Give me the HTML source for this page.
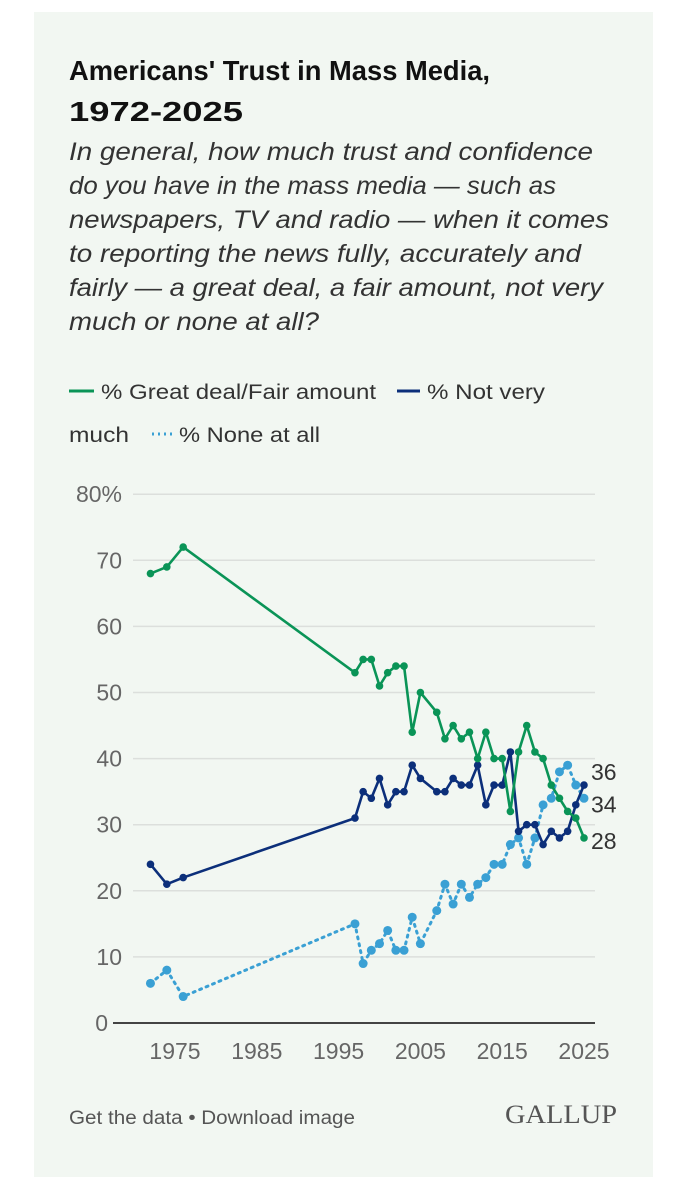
<!DOCTYPE html>
<html><head><meta charset="utf-8"><style>
body{margin:0;background:#fff;width:688px;height:1200px;overflow:hidden;font-family:"Liberation Sans",sans-serif}
#card{position:absolute;left:34px;top:12px;width:619px;height:1165px;background:#f2f7f2}
</style></head><body>
<div id="card"></div>
<svg id="chart" width="688" height="1200" style="position:absolute;left:0;top:0">
<text x="69" y="80" font-size="28" font-weight="bold" fill="#111" textLength="421" lengthAdjust="spacingAndGlyphs">Americans' Trust in Mass Media,</text>
<text x="69" y="121" font-size="28" font-weight="bold" fill="#111" textLength="174" lengthAdjust="spacingAndGlyphs">1972-2025</text>
<g font-size="25" font-style="italic" fill="#333">
<text x="69" y="160" textLength="524" lengthAdjust="spacingAndGlyphs">In general, how much trust and confidence</text>
<text x="69" y="194" textLength="487" lengthAdjust="spacingAndGlyphs">do you have in the mass media — such as</text>
<text x="69" y="228" textLength="540" lengthAdjust="spacingAndGlyphs">newspapers, TV and radio — when it comes</text>
<text x="69" y="262" textLength="512" lengthAdjust="spacingAndGlyphs">to reporting the news fully, accurately and</text>
<text x="69" y="296" textLength="534" lengthAdjust="spacingAndGlyphs">fairly — a great deal, a fair amount, not very</text>
<text x="69" y="330" textLength="250" lengthAdjust="spacingAndGlyphs">much or none at all?</text>
</g>
<g font-size="21" fill="#333">
<line x1="69" y1="391" x2="94" y2="391" stroke="#0a9457" stroke-width="3"/>
<text x="101" y="399" textLength="275" lengthAdjust="spacingAndGlyphs">% Great deal/Fair amount</text>
<line x1="397" y1="391" x2="420" y2="391" stroke="#0c2f7a" stroke-width="3"/>
<text x="427" y="399" textLength="118" lengthAdjust="spacingAndGlyphs">% Not very</text>
<text x="69" y="442" textLength="60" lengthAdjust="spacingAndGlyphs">much</text>
<line x1="152" y1="434" x2="175" y2="434" stroke="#3aa0d4" stroke-width="3" stroke-dasharray="2,4"/>
<text x="179" y="442" textLength="141" lengthAdjust="spacingAndGlyphs">% None at all</text>
</g>
<g id="grid"></g><g id="series"></g>
<text x="69" y="1124" font-size="19" fill="#555" textLength="286" lengthAdjust="spacingAndGlyphs">Get the data • Download image</text>
<text x="505" y="1123" font-size="26" font-family="Liberation Serif" fill="#555" textLength="112" lengthAdjust="spacingAndGlyphs">GALLUP</text>
</svg>
<script>
const years=[1972,1974,1976,1997,1998,1999,2000,2001,2002,2003,2004,2005,2007,2008,2009,2010,2011,2012,2013,2014,2015,2016,2017,2018,2019,2020,2021,2022,2023,2024,2025];
const greatDeal=[68,69,72,53,55,55,51,53,54,54,44,50,47,43,45,43,44,40,44,40,40,32,41,45,41,40,36,34,32,31,28];
const notVery=[24,21,22,31,35,34,37,33,35,35,39,37,35,35,37,36,36,39,33,36,36,41,29,30,30,27,29,28,29,33,36];
const noneAtAll=[6,8,4,15,9,11,12,14,11,11,16,12,17,21,18,21,19,21,22,24,24,27,28,24,28,33,34,38,39,36,34];
const yTicks=[0,10,20,30,40,50,60,70,80];
const xTicks=[1975,1985,1995,2005,2015,2025];
const NS='http://www.w3.org/2000/svg';
const X=y=>175+(y-1975)*8.18;
const Y=v=>1023-v*6.61;
function mk(t,a,p){const e=document.createElementNS(NS,t);for(const k in a)e.setAttribute(k,a[k]);p.appendChild(e);return e;}
const grid=document.getElementById('grid'),ser=document.getElementById('series');
yTicks.forEach(v=>{
 const l=mk('line',{x1:v?133:113,x2:595,y1:Y(v),y2:Y(v),stroke:v?'#dcdfdc':'#444','stroke-width':v?1.5:2},grid);
 
 
 const t=mk('text',{x:v?122:108,y:Y(v)+8,'font-size':23,fill:'#666','text-anchor':'end'},grid);
 t.textContent=v===80?'80%':v;
 
 
});
xTicks.forEach(yr=>{
 const t=mk('text',{x:X(yr),y:1059,'font-size':23,fill:'#666','text-anchor':'middle'},grid);
 t.textContent=yr;
 
 
});
function draw(vals,color,dash,name){
 const g=mk('g',{},ser);
 
 
 const pl=mk('polyline',{points:vals.map((v,i)=>X(years[i])+','+Y(v)).join(' '),fill:'none',stroke:color,'stroke-width':dash?3:2.6,'stroke-dasharray':dash?'2,5':'none','stroke-linecap':'round','stroke-linejoin':'round'},g);
 
 
 vals.forEach((v,i)=>{
  const c=mk('circle',{cx:X(years[i]),cy:Y(v),r:dash?4.5:3.8,fill:color},g);
  
  
 });
}
draw(noneAtAll,'#3aa0d4',true,'series-none-at-all');
draw(notVery,'#0c2f7a',false,'series-not-very-much');
draw(greatDeal,'#0a9457',false,'series-great-deal');
const endLabels=[[notVery[notVery.length-1],-14],[noneAtAll[noneAtAll.length-1],5],[greatDeal[greatDeal.length-1],2]];
endLabels.forEach(([v,off])=>{
 const t=mk('text',{x:591,y:Y(v)+9+off,'font-size':23,fill:'#333'},ser);
 t.textContent=v;
 
 
});
</script>
</body></html>
